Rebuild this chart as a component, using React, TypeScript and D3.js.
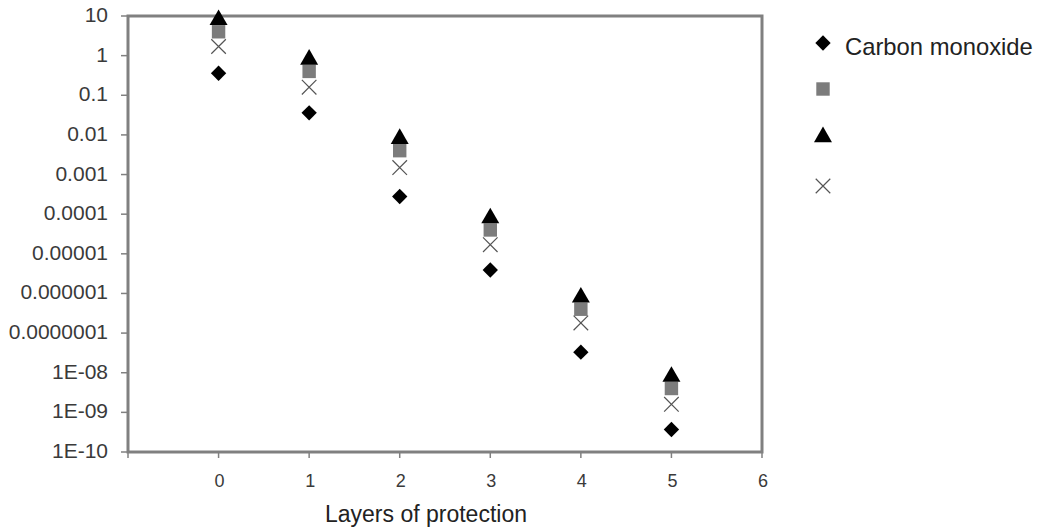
import React, { useEffect, useRef } from 'react'
import * as d3 from 'd3'

const layers = [0, 1, 2, 3, 4, 5]
const carbonMonoxide = [0.36, 0.036, 0.00028, 0.0000039, 0.000000033, 0.00000000037]
const squareSeries = [4, 0.4, 0.004, 0.00004, 0.0000004, 0.000000004]
const triangleSeries = [8, 0.8, 0.008, 0.00008, 0.0000008, 0.000000008]
const crossSeries = [1.7, 0.16, 0.0015, 0.000017, 0.00000018, 0.0000000016]
const yTickValues = [10, 1, 0.1, 0.01, 0.001, 0.0001, 0.00001, 0.000001, 0.0000001, 1e-8, 1e-9, 1e-10]
const yTickLabels = ['10', '1', '0.1', '0.01', '0.001', '0.0001', '0.00001', '0.000001', '0.0000001', '1E-08', '1E-09', '1E-10']
const xTickValues = [0, 1, 2, 3, 4, 5, 6]

const App = () => {
  const svgRef = useRef<SVGSVGElement | null>(null)

  useEffect(() => {
    const svg = d3.select(svgRef.current)
    svg.selectAll('*').remove()

    const left = 128, right = 762, top = 16, bottom = 452
    const x = d3.scaleLinear().domain([-1, 6]).range([left, right])
    const y = d3.scaleLog().domain([1e-10, 10]).range([bottom, top])
    const font = 'Liberation Sans, Arial, sans-serif'
    const axisColor = '#808080'
    const textColor = '#3a3a3a'

    // plot frame
    svg.append('rect')
      .attr('x', left).attr('y', top)
      .attr('width', right - left).attr('height', bottom - top)
      .attr('fill', 'none').attr('stroke', axisColor).attr('stroke-width', 3)

    // y ticks
    yTickValues.forEach((v, i) => {
      svg.append('line')
        .attr('x1', left - 7).attr('x2', left)
        .attr('y1', y(v)).attr('y2', y(v))
        .attr('stroke', axisColor).attr('stroke-width', 1.5)
      svg.append('text')
        .attr('x', 108).attr('y', y(v) + 6)
        .attr('text-anchor', 'end')
        .style('font-family', font).style('font-size', '21px').style('fill', textColor)
        .text(yTickLabels[i])
    })

    // x ticks
    const xt = [-1, ...xTickValues]
    xt.forEach(v => {
      svg.append('line')
        .attr('x1', x(v)).attr('x2', x(v))
        .attr('y1', bottom).attr('y2', bottom + 6)
        .attr('stroke', axisColor).attr('stroke-width', 1.5)
    })
    xTickValues.forEach(v => {
      svg.append('text')
        .attr('x', x(v) + 1).attr('y', bottom + 35)
        .attr('text-anchor', 'middle')
        .style('font-family', font).style('font-size', '18px').style('fill', textColor)
        .text(v)
    })

    svg.append('text')
      .attr('x', 426).attr('y', 522)
      .attr('text-anchor', 'middle')
      .style('font-family', font).style('font-size', '23px').style('fill', '#222')
      .text('Layers of protection')

    const diamond = d3.symbol().type(d3.symbolDiamond2).size(150)
    const square = d3.symbol().type(d3.symbolSquare).size(180)
    const triangle = d3.symbol().type(d3.symbolTriangle).size(140)
    const cross = d3.symbol().type(d3.symbolTimes).size(140)

    const drawSeries = (vals: number[], path: any, fill: string, stroke: string, sw: number) => {
      svg.append('g').selectAll('path')
        .data(vals)
        .enter()
        .append('path')
        .attr('d', path)
        .attr('transform', (d, i) => `translate(${x(layers[i])},${y(d)})`)
        .attr('fill', fill).attr('stroke', stroke).attr('stroke-width', sw)
    }

    drawSeries(carbonMonoxide, diamond, '#000', 'none', 0)
    drawSeries(squareSeries, square, '#7c7c7c', 'none', 0)
    drawSeries(triangleSeries, triangle, '#000', 'none', 0)
    drawSeries(crossSeries, cross, 'none', '#555', 1.2)

    // legend
    const legend = [
      { path: diamond, fill: '#000', stroke: 'none', sw: 0, y: 43, label: 'Carbon monoxide' },
      { path: square, fill: '#7c7c7c', stroke: 'none', sw: 0, y: 89, label: '' },
      { path: triangle, fill: '#000', stroke: 'none', sw: 0, y: 137, label: '' },
      { path: cross, fill: 'none', stroke: '#555', sw: 1.2, y: 186, label: '' },
    ]
    legend.forEach(l => {
      svg.append('path')
        .attr('d', l.path)
        .attr('transform', `translate(823,${l.y})`)
        .attr('fill', l.fill).attr('stroke', l.stroke).attr('stroke-width', l.sw)
      if (l.label) {
        svg.append('text')
          .attr('x', 845).attr('y', 55)
          .style('font-family', font).style('font-size', '23.8px').style('fill', '#222')
          .text(l.label)
      }
    })
  }, [])

  return (
    <svg ref={svgRef} width={1040} height={529}
      style={{ position: 'absolute', left: 0, top: 0, background: '#fff' }} />
  )
}

export default App
